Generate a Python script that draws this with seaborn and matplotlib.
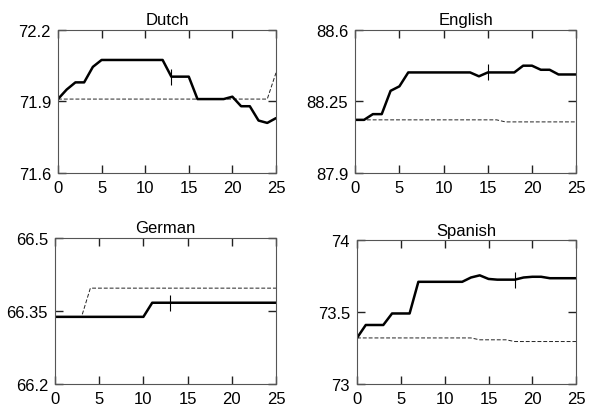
import numpy as np
import pandas as pd
import seaborn as sns
import matplotlib.pyplot as plt

# Values
iterations = list(range(26))

languages = ["Dutch", "English", "German", "Spanish"]

dutch_solid = [71.91, 71.95, 71.98, 71.98, 72.045, 72.074, 72.074, 72.074, 72.074, 72.074,
               72.074, 72.074, 72.074, 72.004, 72.004, 72.004, 71.91, 71.91, 71.91, 71.91,
               71.92, 71.88, 71.88, 71.82, 71.81, 71.83]
dutch_dashed = [71.91] * 25 + [72.02]

english_solid = [88.16, 88.16, 88.188, 88.188, 88.302, 88.324, 88.392, 88.392, 88.392, 88.392,
                 88.392, 88.392, 88.392, 88.392, 88.373, 88.392, 88.392, 88.392, 88.392, 88.425,
                 88.425, 88.405, 88.405, 88.382, 88.382, 88.382]
english_dashed = [88.16] * 17 + [88.15] * 9

german_solid = [66.338] * 11 + [66.367] * 15
german_dashed = [66.338] * 4 + [66.397] * 22

spanish_solid = [73.32, 73.41, 73.41, 73.41, 73.49, 73.49, 73.49, 73.71, 73.71, 73.71,
                 73.71, 73.71, 73.71, 73.74, 73.755, 73.73, 73.725, 73.725, 73.725, 73.74,
                 73.745, 73.745, 73.735, 73.735, 73.735, 73.735]
spanish_dashed = [73.32] * 14 + [73.307] * 4 + [73.295] * 8

marker_at = {"Dutch": 13, "English": 15, "German": 13, "Spanish": 18}

y_ticks = {"Dutch": [71.6, 71.9, 72.2],
           "English": [87.9, 88.25, 88.6],
           "German": [66.2, 66.35, 66.5],
           "Spanish": [73, 73.5, 74]}
y_labels = {"Dutch": ["71.6", "71.9", "72.2"],
            "English": ["87.9", "88.25", "88.6"],
            "German": ["66.2", "66.35", "66.5"],
            "Spanish": ["73", "73.5", "74"]}

solid = {"Dutch": dutch_solid, "English": english_solid,
         "German": german_solid, "Spanish": spanish_solid}
dashed = {"Dutch": dutch_dashed, "English": english_dashed,
          "German": german_dashed, "Spanish": spanish_dashed}

rows = []
for lang in languages:
    for x, a, b in zip(iterations, solid[lang], dashed[lang]):
        rows.append({"language": lang, "iter": x, "series": "solid", "score": a})
        rows.append({"language": lang, "iter": x, "series": "dashed", "score": b})
df = pd.DataFrame(rows)

sns.set_style("ticks")
plt.rcParams["font.family"] = ["Liberation Sans", "DejaVu Sans"]
plt.rcParams["font.size"] = 12

fig = plt.figure(figsize=(5.94, 4.10), dpi=100)
positions = {"Dutch": [0.0976, 0.5756, 0.367, 0.349],
             "English": [0.598, 0.5756, 0.372, 0.349],
             "German": [0.0926, 0.061, 0.372, 0.356],
             "Spanish": [0.601, 0.061, 0.369, 0.351]}

for lang in languages:
    ax = fig.add_axes(positions[lang])
    sub = df[df["language"] == lang]
    sns.lineplot(data=sub[sub["series"] == "dashed"], x="iter", y="score", ax=ax,
                 color="#222222", linewidth=0.7, linestyle=(0, (4, 2)))
    sns.lineplot(data=sub[sub["series"] == "solid"], x="iter", y="score", ax=ax,
                 color="black", linewidth=1.8)
    m = marker_at[lang]
    ax.plot([m], [solid[lang][m]], marker="|", markersize=11, color="black",
            markeredgewidth=0.8)
    ax.set_xlim(0, 25)
    ax.set_ylim(y_ticks[lang][0], y_ticks[lang][-1])
    ax.set_xticks([0, 5, 10, 15, 20, 25])
    ax.set_yticks(y_ticks[lang])
    ax.set_yticklabels(y_labels[lang])
    ax.set_xlabel("")
    ax.set_ylabel("")
    ax.set_title(lang, fontsize=12, pad=4, color="black")
    ax.tick_params(direction="in", top=True, right=True, length=6, width=1.0,
                   color="#222222", labelcolor="black", labelsize=12, pad=5)
    for s in ax.spines.values():
        s.set_linewidth(0.8)
        s.set_color("#555555")

fig.savefig("out.png", dpi=100)
